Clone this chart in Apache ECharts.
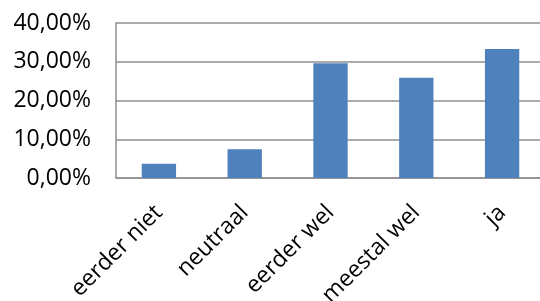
<!DOCTYPE html>
<html>
<head>
<meta charset="utf-8">
<script src="https://cdn.jsdelivr.net/npm/echarts@6/dist/echarts.min.js"></script>
<style>
    html, body { margin: 0; padding: 0; background: #fff; }
    #chart { width: 540px; height: 301px; }
</style>
</head>
<body>
<div id="chart"></div>
<script>
    // antwoorden en aandeel (in %)
    const categories = ['eerder niet', 'neutraal', 'eerder wel', 'meestal wel', 'ja'];
    const percentages = [3.7, 7.4, 29.6, 25.9, 33.3];
    const yTicks = [0, 10, 20, 30, 40];

    const lineColor = '#8f8f8f';
    const fontFamily = '"Open Sans", "Liberation Sans", sans-serif';

    const chart = echarts.init(document.getElementById('chart'));
    chart.setOption({
        animation: false,
        grid: {
            left: 116,
            right: -5,
            top: 23,
            bottom: 123,
            containLabel: false,
            outerBoundsMode: 'none'
        },
        xAxis: {
            type: 'category',
            data: categories,
            axisLine: { lineStyle: { color: lineColor, width: 1.5 } },
            axisTick: { show: false },
            axisLabel: {
                interval: 0,
                rotate: 45,
                margin: 31,
                color: '#000',
                fontSize: 23,
                fontFamily: fontFamily
            }
        },
        yAxis: {
            type: 'value',
            min: yTicks[0],
            max: yTicks[yTicks.length - 1],
            interval: 10,
            axisLine: { show: true, lineStyle: { color: lineColor, width: 1.5 } },
            axisTick: { show: false },
            splitLine: { lineStyle: { color: lineColor, width: 1.5 } },
            axisLabel: {
                margin: 25,
                color: '#000',
                fontSize: 23,
                fontFamily: fontFamily,
                formatter: v => v.toFixed(2).replace('.', ',') + '%'
            }
        },
        series: [{
            type: 'bar',
            data: percentages,
            barWidth: '40%',
            itemStyle: { color: '#4f81bd' }
        }]
    });
</script>
</body>
</html>
